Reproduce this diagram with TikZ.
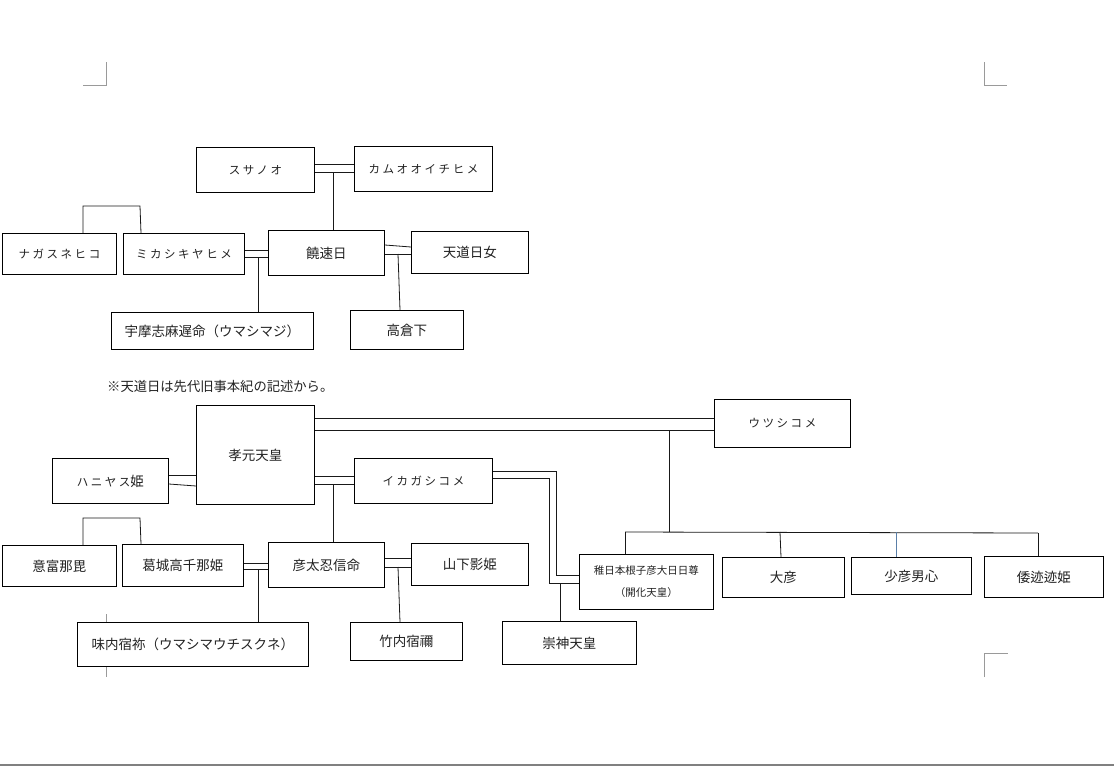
\documentclass[tikz,border=0pt]{standalone}
\usepackage{fontspec}
\newfontfamily\jp{Noto Sans CJK JP}
\newfontfamily\jpk{Noto Sans CJK JP}[LetterSpace=22]
\definecolor{markgray}{HTML}{9A9A9A}
\definecolor{txt}{HTML}{222222}
\definecolor{bluish}{HTML}{5A7FA8}
\newcommand\famnode[7][]{\node[fbox,#1,anchor=north west,minimum width={(#4)-(#2)},minimum height={(#5)-(#3)}] (#6) at (#2,#3) {#7};}
\begin{document}
\begin{tikzpicture}[x=1pt,y=-1pt,
  fbox/.style={draw=black,fill=white,line width=0.9pt,inner sep=0pt,text=txt,font=\jp\fontsize{13.5}{16}\selectfont,align=center},
  kata/.style={font=\jpk\fontsize{11.5}{14}\selectfont},
  small/.style={font=\jp\fontsize{10.5}{22}\selectfont},
  conn/.style={line width=0.8pt,draw=black!90},
  cmark/.style={line width=0.9pt,draw=markgray}]
\useasboundingbox (0,0) rectangle (1114,766);
\fill[white] (0,0) rectangle (1114,766);
% page marks
\draw[cmark] (83,85) -- (106,85) -- (106,62);
\draw[cmark] (984,62) -- (984,85) -- (1007,85);
\draw[cmark] (984,677) -- (984,653) -- (1008,653);
\draw[cmark] (106,614) -- (106,677);
\draw[line width=1.2pt,draw=black!50] (0,765) -- (1114,765);
% ---------- upper tree ----------
\famnode[kata]{196}{147}{314}{192}{susa}{スサノオ}
\famnode[kata]{354}{146}{492}{191}{kamu}{カムオオイチヒメ}
\famnode[kata]{2}{233}{116}{274}{naga}{ナガスネヒコ}
\famnode[kata]{123}{233}{244}{274}{mika}{ミカシキヤヒメ}
\famnode{268}{230}{384}{275}{nigi}{饒速日}
\famnode{411}{231}{528}{273}{tend}{天道日女}
\famnode{111}{312}{313}{349}{uma}{宇摩志麻遅命（ウマシマジ）}
\famnode{350}{310}{463}{349}{taka}{高倉下}
\node[anchor=west,inner sep=0pt,text=txt,font=\jp\fontsize{13.3}{16}\selectfont] (note) at (107,386) {※天道日は先代旧事本紀の記述から。};
% connectors upper
\draw[conn] (susa.east |- 0,164) -- (kamu.west |- 0,164);
\draw[conn] (susa.east |- 0,172) -- (kamu.west |- 0,172);
\coordinate (j1) at (333,172);
\draw[conn] (j1) -- (j1 |- nigi.north);
\draw[conn] (83,0 |- naga.north) -- (83,206) -- (140,206) -- (141,0 |- mika.north);
\draw[conn] (mika.east |- 0,250) -- (nigi.west |- 0,250);
\draw[conn] (mika.east |- 0,257) -- (nigi.west |- 0,257);
\coordinate (j2) at (258,257);
\draw[conn] (j2) -- (j2 |- uma.north);
\draw[conn] (nigi.east |- 0,245) -- (tend.west |- 0,247);
\draw[conn] (nigi.east |- 0,254) -- (tend.west |- 0,254);
\coordinate (j3) at (398,254);
\draw[conn] (j3) -- (400,0 |- taka.north);
% ---------- lower tree ----------
\famnode{196}{405}{314}{504}{kogen}{孝元天皇}
\famnode{52}{458}{168}{503}{hani}{{\jpk\fontsize{11.5}{14}\selectfont ハニヤス}姫}
\famnode[kata]{354}{458}{492}{503}{ika}{イカガシコメ}
\famnode[kata]{714}{399}{850}{447}{utsu}{ウツシコメ}
\famnode{2}{545}{116}{586}{oho}{意富那毘}
\famnode{122}{544}{243}{586}{kazu}{葛城高千那姫}
\famnode{268}{542}{384}{587}{hiko}{彦太忍信命}
\famnode{411}{543}{528}{585}{yama}{山下影姫}
\famnode{77}{622}{308}{666}{aji}{味内宿祢（ウマシマウチスクネ）}
\famnode{350}{622}{462}{660}{take}{竹内宿禰}
\famnode{502}{621}{636}{664}{suji}{崇神天皇}
\famnode[small]{579}{554}{713}{609}{waka}{稚日本根子彦大日日尊\\（開化天皇）}
\famnode{722}{557}{844}{597}{ohiko}{大彦}
\famnode{851}{557}{971}{594}{suku}{少彦男心}
\famnode{984}{556}{1103}{597}{yamato}{倭迹迹姫}
% connectors lower
\draw[conn] (kogen.east |- 0,418) -- (utsu.west |- 0,418);
\draw[conn] (kogen.east |- 0,430) -- (utsu.west |- 0,430);
\draw[conn] (hani.east |- 0,475) -- (kogen.west |- 0,475);
\draw[conn] (hani.east |- 0,484) -- (kogen.west |- 0,486);
\draw[conn] (kogen.east |- 0,476) -- (ika.west |- 0,476);
\draw[conn] (kogen.east |- 0,484) -- (ika.west |- 0,484);
\coordinate (j4) at (333,484);
\draw[conn] (j4) -- (j4 |- hiko.north);
\draw[conn] (83,0 |- oho.north) -- (83,518) -- (140,518) -- (141,0 |- kazu.north);
\draw[conn] (kazu.east |- 0,563) -- (hiko.west |- 0,563);
\draw[conn] (kazu.east |- 0,569) -- (hiko.west |- 0,569);
\coordinate (j5) at (258,569);
\draw[conn] (j5) -- (j5 |- aji.north);
\draw[conn] (hiko.east |- 0,558) -- (yama.west |- 0,558);
\draw[conn] (hiko.east |- 0,567) -- (yama.west |- 0,567);
\coordinate (j6) at (398,567);
\draw[conn] (j6) -- (400,0 |- take.north);
\draw[conn] (ika.east |- 0,471) -- (556,471) -- (556,575) -- (waka.west |- 0,575);
\draw[conn] (ika.east |- 0,478) -- (549,478) -- (549,583) -- (waka.west |- 0,583);
\coordinate (j7) at (560,583);
\draw[conn] (j7) -- (j7 |- suji.north);
\coordinate (j8) at (669,430);
\coordinate (bl) at (625,532);
\coordinate (br) at (1038,533);
\draw[conn] (j8) -- (j8 |- bl);
\draw[conn] (bl) -- (br);
\draw[conn] (bl) -- (bl |- waka.north);
\draw[conn] (780,532) -- (781,0 |- ohiko.north);
\draw[line width=0.7pt,draw=bluish] (896,532) -- (896,0 |- suku.north);
\draw[conn] (br) -- (br |- yamato.north);
\end{tikzpicture}
\end{document}
